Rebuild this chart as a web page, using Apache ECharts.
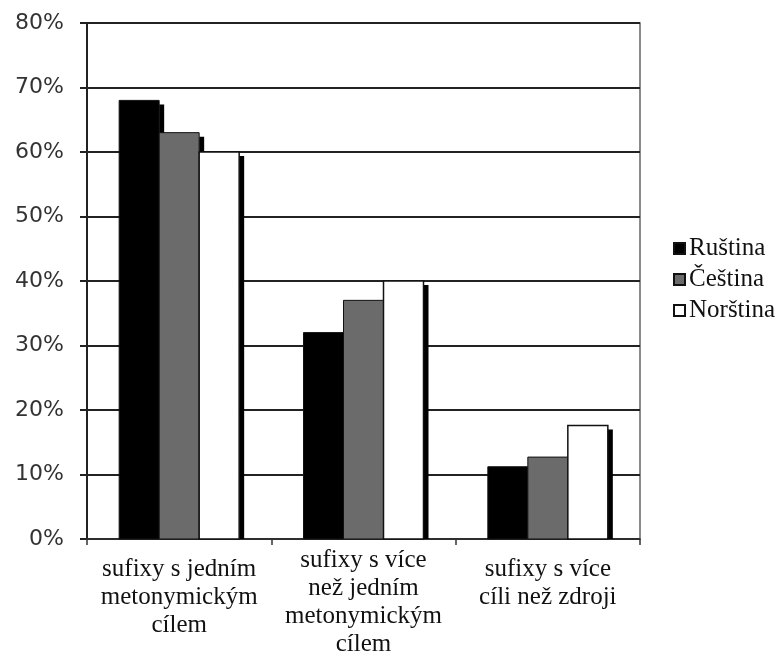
<!DOCTYPE html>
<html>
<head>
<meta charset="utf-8">
<script src="https://cdn.jsdelivr.net/npm/echarts@6/dist/echarts.min.js"></script>
<style>html,body{margin:0;padding:0;background:#fff;}#c{width:783px;height:655px;}</style>
</head>
<body>
<div id="c"></div>
<script>
var categories = [
  'sufixy s jedním\nmetonymickým\ncílem',
  'sufixy s více\nnež jedním\nmetonymickým\ncílem',
  'sufixy s více\ncíli než zdroji'
];
var seriesNames = ['Ruština', 'Čeština', 'Norština'];
var rustina = [68, 32, 11.2];
var cestina = [63, 37, 12.7];
var norstina = [60, 40, 17.6];
var yTicks = [0, 10, 20, 30, 40, 50, 60, 70, 80];

var seriesValues = [rustina, cestina, norstina];
var fills = ['#000000', '#6b6b6b', '#ffffff'];
var strokeW = [1, 1, 1.5];
var BAR_W = 40, SH_X = 5, SH_Y = 4;

function makeRender(s) {
  return function (params, api) {
    var base = api.coord([api.value(0), 0]);
    var top = api.coord([api.value(0), api.value(1)]);
    var x = base[0] - 1.5 * BAR_W + s * BAR_W;
    var h = base[1] - top[1];
    return {
      type: 'group',
      children: [
        {type: 'rect', shape: {x: x + BAR_W, y: top[1] + SH_Y, width: SH_X, height: Math.max(0, h - SH_Y)},
         style: {fill: '#000'}},
        {type: 'rect', shape: {x: x, y: top[1], width: BAR_W, height: h},
         style: {fill: fills[s], stroke: '#111', lineWidth: strokeW[s]}}
      ]
    };
  };
}

var series = seriesNames.map(function (name, s) {
  return {
    name: name, type: 'custom',
    renderItem: makeRender(s),
    encode: {x: 0, y: 1},
    itemStyle: {color: fills[s], borderColor: '#111', borderWidth: 1},
    data: seriesValues[s].map(function (v, i) { return [i, v]; })
  };
});

var chart = echarts.init(document.getElementById('c'));
chart.setOption({
  animation: false,
  backgroundColor: '#fff',
  grid: {left: 87, right: 143, top: 23, bottom: 116, outerBoundsMode: 'none', containLabel: false,
         show: true, borderColor: '#666', borderWidth: 1.5, backgroundColor: 'transparent'},
  legend: {
    orient: 'vertical', left: 668, top: 231, itemWidth: 11, itemHeight: 11, itemGap: 6,
    icon: 'rect',
    textStyle: {fontFamily: 'Liberation Serif', fontSize: 25, color: '#111', padding: [0, 0, 0, -1]},
    data: seriesNames
  },
  xAxis: {
    type: 'category',
    data: [
      {value: categories[0]},
      {value: categories[1], textStyle: {padding: [-9, 0, 0, 0]}},
      {value: categories[2]}
    ],
    axisLine: {lineStyle: {color: '#333', width: 1.5}},
    axisTick: {show: true, length: 6, lineStyle: {color: '#333', width: 1.5}},
    axisLabel: {
      interval: 0, margin: 16, fontFamily: 'Liberation Serif', fontSize: 25,
      lineHeight: 28, color: '#111', verticalAlign: 'top'
    }
  },
  yAxis: {
    type: 'value', min: yTicks[0], max: yTicks[yTicks.length - 1], interval: 10,
    axisLine: {show: true, lineStyle: {color: '#222', width: 2}},
    axisTick: {show: true, length: 7, lineStyle: {color: '#222', width: 2}},
    splitLine: {lineStyle: {color: '#222', width: 2}},
    axisLabel: {formatter: '{value}%', fontFamily: 'DejaVu Sans', fontSize: 22, color: '#333', margin: 23}
  },
  series: series
});
</script>
</body>
</html>
